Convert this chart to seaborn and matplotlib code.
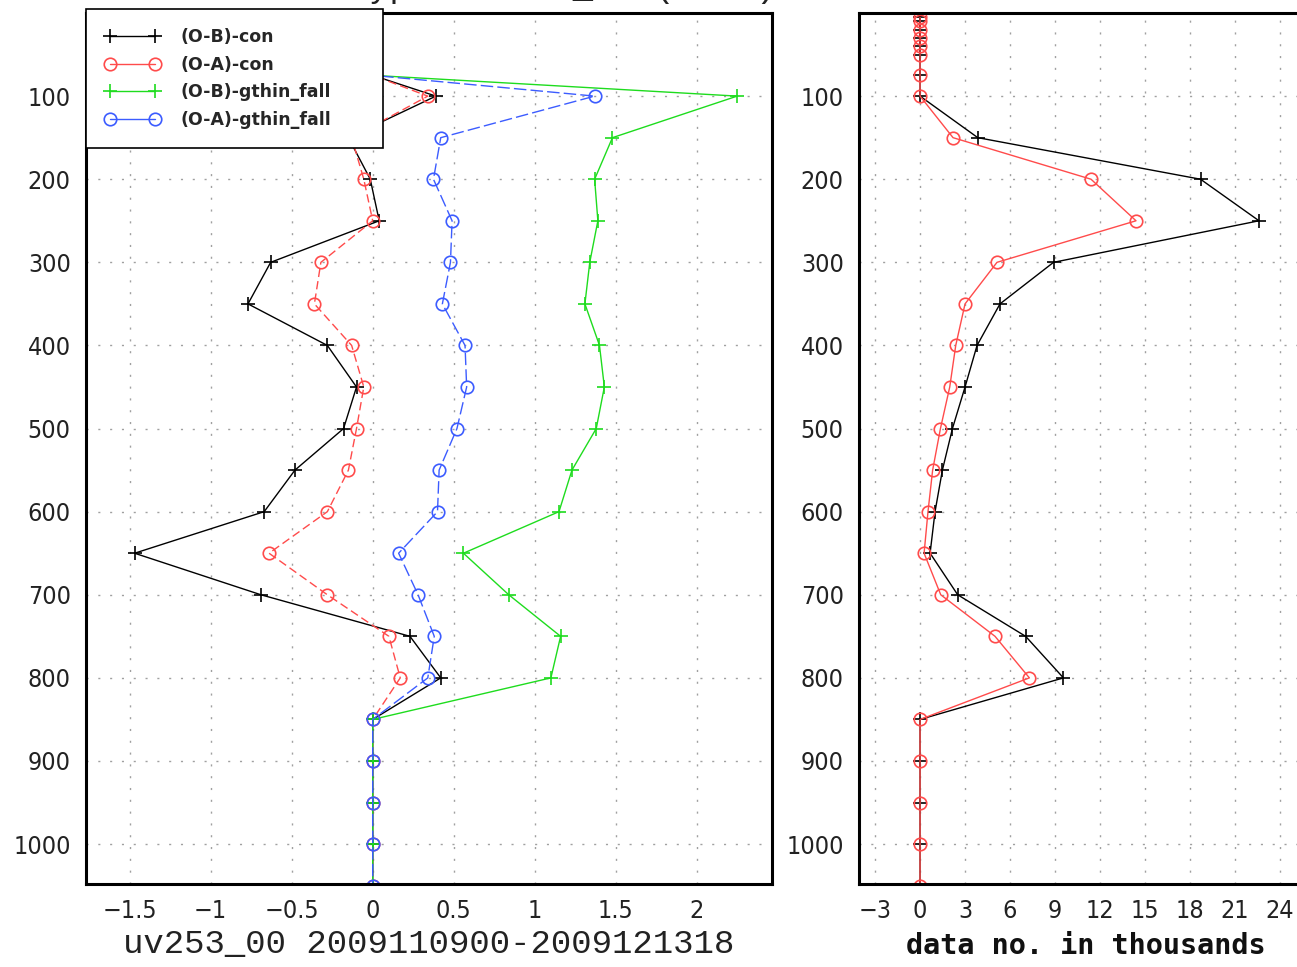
import numpy as np
import pandas as pd
import matplotlib
matplotlib.use("Agg")
import matplotlib.pyplot as plt
import seaborn as sns
from matplotlib.lines import Line2D

# ---------------- data ----------------
levels = [5, 10, 20, 30, 40, 50, 75, 100, 150, 200, 250, 300, 350, 400, 450,
          500, 550, 600, 650, 700, 750, 800, 850, 900, 950, 1000, 1050]

ob_con = [0, 0, 0, 0, 0, 0, 0, 0.39, -0.15, -0.015, 0.04, -0.63, -0.77, -0.28,
          -0.10, -0.18, -0.48, -0.67, -1.47, -0.69, 0.23, 0.42, 0, 0, 0, 0, 0]
oa_con = [0, 0, 0, 0, 0, 0, 0, 0.34, -0.13, -0.055, 0.0, -0.32, -0.36, -0.13,
          -0.055, -0.10, -0.15, -0.28, -0.64, -0.28, 0.10, 0.17, 0, 0, 0, 0, 0]
ob_thin = [0, 0, 0, 0, 0, 0, 0, 2.25, 1.48, 1.37, 1.39, 1.34, 1.31, 1.40,
           1.43, 1.38, 1.23, 1.15, 0.56, 0.84, 1.16, 1.10, 0, 0, 0, 0, 0]
oa_thin = [0, 0, 0, 0, 0, 0, 0, 1.37, 0.42, 0.375, 0.49, 0.48, 0.43, 0.57,
           0.58, 0.52, 0.41, 0.40, 0.16, 0.28, 0.38, 0.34, 0, 0, 0, 0, 0]

n_con = [0, 0, 0, 0, 0, 0, 0, 0, 3.85, 18.7, 22.6, 8.9, 5.33, 3.8, 3.0, 2.16,
         1.49, 1.0, 0.67, 2.51, 7.04, 9.56, 0, 0, 0, 0, 0]
n_thin = [0, 0, 0, 0, 0, 0, 0, 0, 2.2, 11.4, 14.4, 5.13, 3.0, 2.38, 1.98, 1.36,
          0.84, 0.53, 0.27, 1.38, 5.0, 7.29, 0, 0, 0, 0, 0]

labels = ["(O-B)-con", "(O-A)-con", "(O-B)-gthin_fall", "(O-A)-gthin_fall"]
left_xticks = [-1.5, -1, -0.5, 0, 0.5, 1, 1.5, 2]
left_xticklabels = ["\u22121.5", "\u22121", "\u22120.5", "0", "0.5", "1", "1.5", "2"]
right_xticks = [-3, 0, 3, 6, 9, 12, 15, 18, 21, 24]
right_xticklabels = ["\u22123", "0", "3", "6", "9", "12", "15", "18", "21", "24"]
yticks = [100, 200, 300, 400, 500, 600, 700, 800, 900, 1000]
xlabel_left = "uv253_00 2009110900-2009121318"
xlabel_right = "data no. in thousands"
title_text = "Statistics of all data types uv253_00 (wind)"

# ---------------- styling ----------------
sns.set_style("white")
plt.rcParams["font.family"] = ["DejaVu Sans"]

W, H = 1297, 967
fig = plt.figure(figsize=(W / 100, H / 100), dpi=100)

def fx(px):
    return px / W

def fy(py):
    return 1 - py / H

ax1 = fig.add_axes([fx(86), fy(884), fx(772) - fx(86), fy(13) - fy(884)])
ax2 = fig.add_axes([fx(859), fy(884), fx(1313) - fx(859), fy(13) - fy(884)])

BLACK = "#000000"
RED = "#ff4b4b"
GREEN = "#1edc1e"
BLUE = "#3c5cff"

series = [
    (ob_con, BLACK, "+", None),
    (oa_con, RED, "o", (6, 3)),
    (ob_thin, GREEN, "+", None),
    (oa_thin, BLUE, "o", (9, 3)),
]


def style_kw(col, mk):
    kw = dict(color=col, marker=mk, markersize=10 if mk == "+" else 9,
              markeredgewidth=1.2, markeredgecolor=col, linewidth=1.0)
    if mk == "o":
        kw["markerfacecolor"] = "none"
    return kw


for (vals, col, mk, dash), lab in zip(series, labels):
    df = pd.DataFrame({"x": vals, "y": levels})
    kw = style_kw(col, mk)
    if dash is not None:
        kw["dashes"] = dash
    sns.lineplot(data=df, x="x", y="y", estimator=None, sort=False, ax=ax1,
                 legend=False, **kw)

for vals, col, mk in [(n_con, BLACK, "+"), (n_thin, RED, "o")]:
    df = pd.DataFrame({"x": vals, "y": levels})
    sns.lineplot(data=df, x="x", y="y", estimator=None, sort=False, ax=ax2,
                 legend=False, **style_kw(col, mk))

tick_font = dict(family="DejaVu Sans", size=18, stretch="condensed")

for ax, xt, xtl, xlim in [(ax1, left_xticks, left_xticklabels, (-1.77, 2.465)),
                          (ax2, right_xticks, right_xticklabels, (-4.07, 26.2))]:
    ax.set_xlim(*xlim)
    ax.set_ylim(1048, 0)
    ax.set_xticks(xt)
    ax.set_xticklabels(xtl, fontdict=tick_font)
    ax.set_yticks(yticks)
    ax.set_yticklabels([str(v) for v in yticks], fontdict=tick_font)
    ax.tick_params(axis="both", direction="out", length=8, width=1.5,
                   colors="#222222", pad=3)
    ax.grid(True, color="#a0a0a0", linestyle=(0, (1.5, 7)), linewidth=1.0)
    for s in ax.spines.values():
        s.set_linewidth(2.2)
        s.set_color("black")
    ax.set_ylabel("")
    ax.set_facecolor("white")

ax1.set_xlabel(xlabel_left, fontdict=dict(family="Liberation Mono", size=24.5,
               color="#222222"), labelpad=4)
ax2.set_xlabel(xlabel_right, fontdict=dict(family="DejaVu Sans Mono", size=20.5,
               weight="bold", color="#111111"), labelpad=6)

# legend (GrADS style, markers at both ends)
handles = []
for (vals, col, mk, dash) in series:
    handles.append(Line2D([], [], **style_kw(col, mk)))
leg = ax1.legend(handles, labels, loc="upper left", mode="expand",
                 bbox_to_anchor=(fx(86), fy(145), fx(383) - fx(86),
                                 fy(9) - fy(145)),
                 bbox_transform=fig.transFigure,
                 borderaxespad=0, numpoints=2, handlelength=3.2,
                 handletextpad=1.15, labelspacing=0.55, borderpad=1.1,
                 fancybox=False, framealpha=1, edgecolor="black",
                 prop=dict(family="DejaVu Sans", weight="bold", size=12.5))
leg.get_frame().set_linewidth(1.2)
leg.set_zorder(10)

# title (mostly cut off at the top of the image)
fig.text(fx(352) - 23 * 20.5 / W, 1 + 3.5 / H, title_text,
         fontdict=dict(family="Liberation Mono", size=24.5, color="#222222"),
         ha="left", va="baseline")

fig.savefig("out.png", dpi=100)
